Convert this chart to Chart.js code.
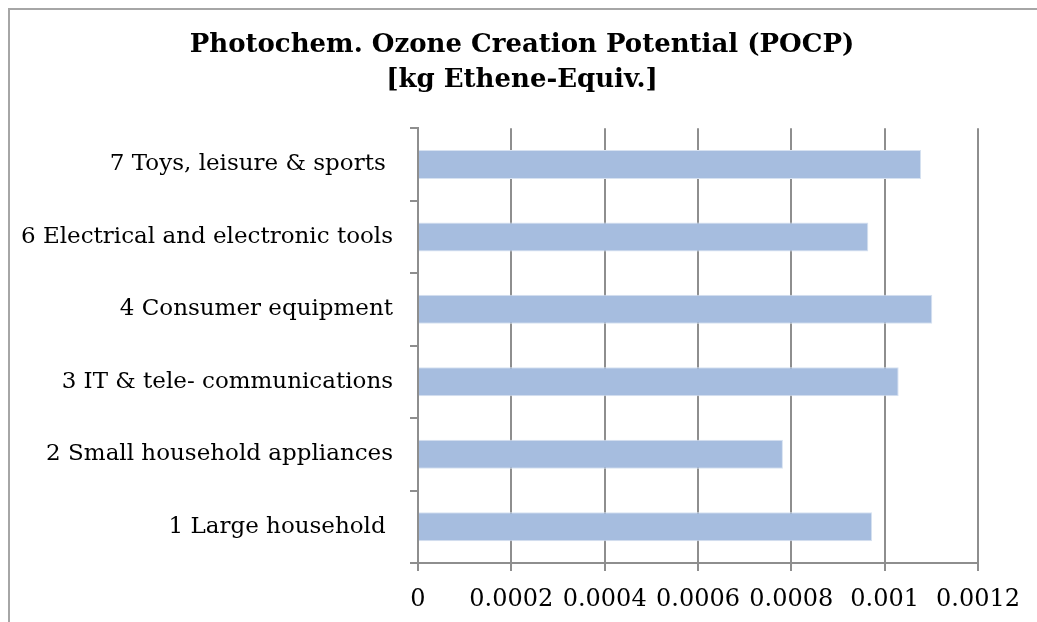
<!DOCTYPE html>
<html>
<head>
<meta charset="utf-8">
<script src="https://cdn.jsdelivr.net/npm/chart.js@4.4.1/dist/chart.umd.min.js"></script>
<style>
  html, body { margin: 0; padding: 0; background: #fff; overflow: hidden; }
  #frame { position: absolute; left: 8px; top: 8px; width: 1100px; height: 700px; border: 2px solid #a6a6a6; }
  #wrap { position: absolute; left: 0; top: 0; width: 1037px; height: 622px; }
</style>
</head>
<body>
<div id="frame"></div>
<div id="wrap"><canvas id="pocpChart"></canvas></div>
<script>
// categories, top to bottom as in the picture
var categories = [
	'7 Toys, leisure & sports ',
	'6 Electrical and electronic tools',
	'4 Consumer equipment',
	'3 IT & tele- communications',
	'2 Small household appliances',
	'1 Large household '
];
// kg Ethene-Equiv.
var pocpValues = [0.001078, 0.000965, 0.001102, 0.001030, 0.000782, 0.000973];
var xTicks = [0, 0.0002, 0.0004, 0.0006, 0.0008, 0.001, 0.0012];
var titleLines = ['Photochem. Ozone Creation Potential (POCP)', '[kg Ethene-Equiv.]'];

var serif = '"DejaVu Serif", "Liberation Serif", serif';
var gridGrey = '#8e8e8e';

// the title in the picture sits over the middle of the whole frame, not the plot
var titleShift = {
	id: 'titleShift',
	afterLayout: function(chart) {
		if (chart.titleBlock) {
			chart.titleBlock.left += 29;
			chart.titleBlock.right += 29;
		}
	}
};

var ctx = document.getElementById('pocpChart').getContext('2d');
var chart = new Chart(ctx, {
	type: 'bar',
	data: {
		labels: categories,
		datasets: [
			{
				data: pocpValues,
				backgroundColor: '#a6bddf',
				borderColor: '#d7e2f1',
				borderWidth: 1,
				barPercentage: 0.8,
				categoryPercentage: 0.5
			}
		]
	},
	options: {
		indexAxis: 'y',
		maintainAspectRatio: false,
		responsive: true,
		animation: false,
		layout: {
			padding: { left: 8, right: 59, top: 8, bottom: 0 }
		},
		plugins: {
			legend: { display: false },
			tooltip: { enabled: false },
			title: {
				display: true,
				text: titleLines,
				color: '#000',
				font: { family: serif, size: 26, weight: 'bold', lineHeight: 1.35 },
				padding: { top: 20, bottom: 30 }
			}
		},
		scales: {
			x: {
				min: 0,
				max: 0.0012,
				afterBuildTicks: function(axis) {
					axis.ticks = xTicks.map(function(v) { return { value: v }; });
				},
				afterFit: function(axis) { axis.height = 59; },
				ticks: {
					color: '#000',
					font: { family: serif, size: 24 },
					padding: 14,
					callback: function(v) { return String(v); }
				},
				grid: { color: gridGrey, lineWidth: 2, tickLength: 8 },
				border: { color: gridGrey, width: 2 }
			},
			y: {
				afterFit: function(axis) { axis.width = 418 - 8; },
				ticks: {
					color: '#000',
					font: { family: serif, size: 23 },
					padding: 17
				},
				grid: { offset: true, drawOnChartArea: false, color: gridGrey, lineWidth: 2, tickLength: 8 },
				border: { color: gridGrey, width: 2 }
			}
		}
	},
	plugins: [titleShift]
});
</script>
</body>
</html>
